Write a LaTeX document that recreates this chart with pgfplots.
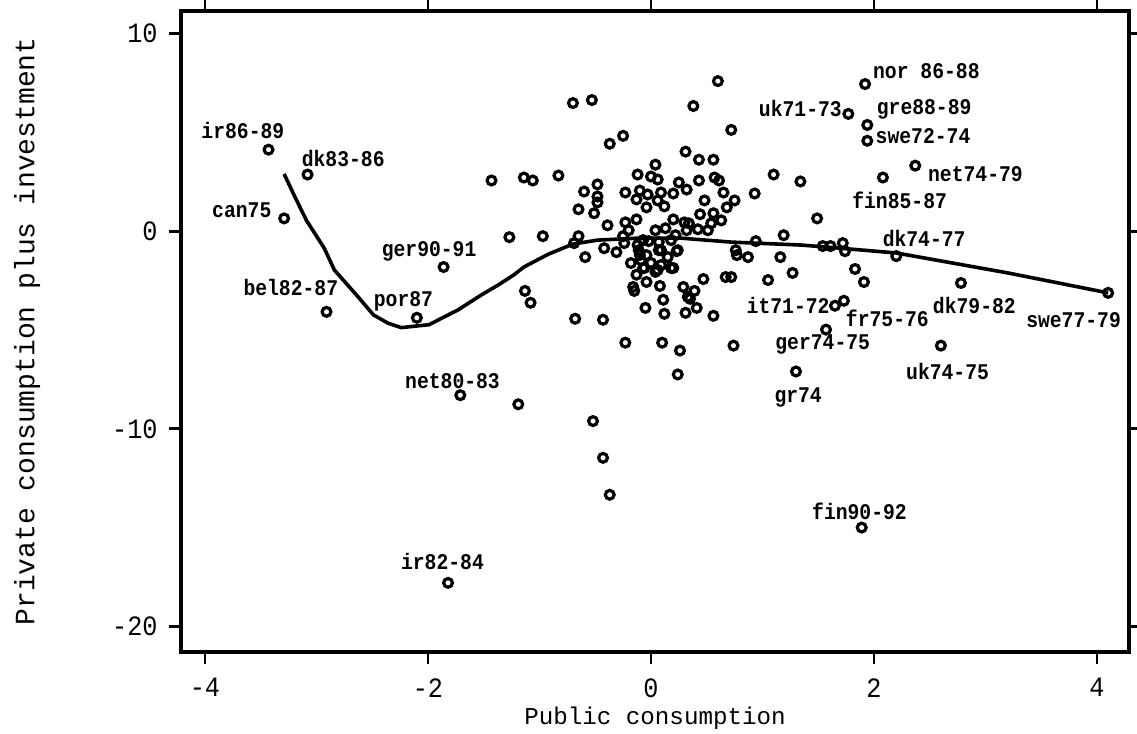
\documentclass[border=0pt]{standalone}
\usepackage{pgfplots}
\pgfplotsset{compat=1.18}
\usepackage{fontspec}
\setmainfont{Liberation Mono}
\newfontfamily\tickfont[FakeStretch=0.9]{Liberation Mono}
\newfontfamily\lblfont[FakeStretch=0.88]{Liberation Mono Bold}
\tikzset{lbl/.style={font=\lblfont\fontsize{11.2bp}{12bp}\selectfont, inner sep=0pt, anchor=center}}

\begin{document}
\begin{tikzpicture}
\begin{axis}[
  scale only axis,
  width=474bp, height=320.5bp,
  xmin=-4.215, xmax=4.287,
  ymin=-21.3, ymax=11.15,
  xtick={-4,-2,0,2,4},
  xticklabels={-4,-2,0,2,4},
  ytick={-20,-10,0,10},
  yticklabels={-20,-10,0,10},
  tick align=outside,
  major tick length=6bp,
  axis line style={line width=1.7bp},
  every tick/.style={black, line width=1.4bp},
  xticklabel style={font=\tickfont\fontsize{14bp}{16bp}\selectfont, anchor=north, inner sep=0pt, yshift=-7bp},
  yticklabel style={font=\tickfont\fontsize{14bp}{16bp}\selectfont, anchor=east, inner sep=0pt, xshift=-5.5bp},
  xlabel={Public consumption},
  ylabel={Private consumption plus investment},
  xlabel style={font=\fontsize{12.1bp}{14bp}\selectfont, at={(axis description cs:0.5,-0.0858)}, anchor=north, inner sep=0pt},
  ylabel style={font=\fontsize{14bp}{16bp}\selectfont, at={(axis description cs:-0.148,0.5)}, anchor=south, inner sep=0pt},
  clip=false,
]
% scatter of all observations
\addplot[only marks, mark=o, mark size=2.2bp, mark options={line width=1.6bp, black}] table {
x y
-3.43 4.13
-3.08 2.87
-3.29 0.65
-1.86 -1.81
-2.91 -4.08
-2.10 -4.38
-1.71 -8.30
-1.82 -17.80
1.92 7.45
1.77 5.94
1.94 5.38
1.94 4.58
2.37 3.32
2.08 2.72
2.20 -1.26
2.78 -2.62
4.10 -3.12
1.65 -3.77
1.73 -3.52
1.57 -4.98
1.30 -7.10
2.60 -5.79
1.89 -15.00
-0.70 6.49
-0.53 6.64
0.60 7.60
0.38 6.34
0.72 5.13
-0.37 4.43
-0.25 4.83
0.31 4.03
0.43 3.62
0.56 3.62
0.04 3.37
-1.43 2.57
-1.14 2.72
-1.06 2.57
-0.83 2.82
-0.12 2.87
0.00 2.77
0.06 2.62
0.25 2.47
0.43 2.57
0.57 2.72
0.61 2.57
0.65 1.96
1.10 2.87
1.34 2.52
0.93 1.91
0.75 1.56
0.68 1.21
-0.48 2.37
-0.60 2.01
-0.48 1.76
-0.48 1.46
-0.65 1.11
-0.51 0.91
-0.23 1.96
-0.10 2.06
-0.03 1.86
-0.13 1.61
0.09 1.96
0.20 1.91
0.32 2.11
0.06 1.56
-0.04 1.21
0.12 1.26
0.48 1.56
0.44 0.86
0.56 0.91
0.54 0.40
0.63 0.55
-0.39 0.30
-0.23 0.45
-0.13 0.60
0.20 0.60
0.30 0.45
0.34 0.40
-1.27 -0.30
-0.97 -0.25
-0.65 -0.25
-0.69 -0.60
1.19 -0.20
0.94 -0.50
-0.20 0.05
-0.25 -0.25
0.04 0.05
0.13 0.15
0.22 -0.20
0.32 0.05
0.42 0.10
0.51 0.05
-0.59 -1.31
-0.42 -0.86
-0.31 -1.06
-0.18 -1.61
-0.11 -0.96
-0.09 -1.46
-0.06 -1.86
-0.16 -2.82
-0.15 -3.02
-0.04 -2.57
0.04 -2.06
0.09 -1.71
0.18 -1.86
0.09 -0.96
0.15 -1.31
0.23 -1.01
0.08 -2.77
0.11 -3.47
0.12 -4.18
-0.05 -3.88
0.29 -2.82
0.39 -3.02
0.33 -3.32
0.35 -3.42
0.41 -3.88
0.31 -4.13
0.56 -4.28
0.47 -2.42
0.67 -2.32
0.72 -2.32
0.76 -0.96
0.77 -1.21
0.87 -1.31
1.16 -1.31
1.27 -2.11
1.05 -2.47
-1.13 -3.02
-1.08 -3.62
-0.68 -4.43
-0.43 -4.48
-0.23 -5.64
0.10 -5.64
0.26 -6.04
0.74 -5.79
0.24 -7.25
1.49 0.65
1.54 -0.75
1.61 -0.75
1.72 -0.60
1.74 -1.01
1.83 -1.91
1.91 -2.57
-0.07 -0.45
0.07 -0.55
0.18 -0.45
0.24 -0.96
0.07 -0.96
-0.07 -1.86
0.06 -1.96
0.20 -1.86
-0.24 -0.60
-0.12 -0.70
-0.04 -1.21
-0.02 -0.50
-0.10 -1.20
0.00 -1.60
-0.13 -2.20
-0.52 -9.61
-0.43 -11.47
-0.37 -13.34
-1.19 -8.76
};
% lowess smooth
\addplot[line width=1.8bp, black] table {
x y
-3.29 2.90
-3.19 1.70
-3.09 0.55
-2.93 -0.86
-2.84 -1.96
-2.63 -3.30
-2.49 -4.23
-2.36 -4.65
-2.24 -4.88
-1.99 -4.73
-1.73 -3.98
-1.52 -3.22
-1.37 -2.72
-1.23 -2.21
-1.14 -1.81
-0.92 -1.16
-0.70 -0.65
-0.48 -0.45
-0.12 -0.35
0.27 -0.35
0.72 -0.55
1.35 -0.70
1.70 -0.86
2.20 -1.10
3.20 -2.11
4.10 -3.12
};
\node[lbl] at (axis cs:-3.66,5.08) {ir86-89};
\node[lbl] at (axis cs:-2.76,3.67) {dk83-86};
\node[lbl] at (axis cs:-3.67,1.06) {can75};
\node[lbl] at (axis cs:-1.99,-1.01) {ger90-91};
\node[lbl] at (axis cs:-3.23,-2.87) {bel82-87};
\node[lbl] at (axis cs:-2.22,-3.57) {por87};
\node[lbl] at (axis cs:-1.78,-7.60) {net80-83};
\node[lbl] at (axis cs:-1.87,-16.71) {ir82-84};
\node[lbl] at (axis cs:1.87,-14.19) {fin90-92};
\node[lbl] at (axis cs:1.32,-8.40) {gr74};
\node[lbl] at (axis cs:2.47,8.10) {nor 86-88};
\node[lbl] at (axis cs:1.34,6.19) {uk71-73};
\node[lbl] at (axis cs:2.45,6.19) {gre88-89};
\node[lbl] at (axis cs:2.44,4.83) {swe72-74};
\node[lbl] at (axis cs:2.91,2.87) {net74-79};
\node[lbl] at (axis cs:2.23,1.56) {fin85-87};
\node[lbl] at (axis cs:2.45,-0.35) {dk74-77};
\node[lbl] at (axis cs:2.90,-3.77) {dk79-82};
\node[lbl] at (axis cs:3.79,-4.48) {swe77-79};
\node[lbl] at (axis cs:1.23,-3.77) {it71-72};
\node[lbl] at (axis cs:2.12,-4.43) {fr75-76};
\node[lbl] at (axis cs:1.54,-5.74) {ger74-75};
\node[lbl] at (axis cs:2.66,-7.10) {uk74-75};
\end{axis}
\pgfresetboundingbox
\path ([shift={(-90.5bp,-41bp)}]current axis.south west) rectangle ([shift={(4bp,5.5bp)}]current axis.north east);
\end{tikzpicture}
\end{document}
